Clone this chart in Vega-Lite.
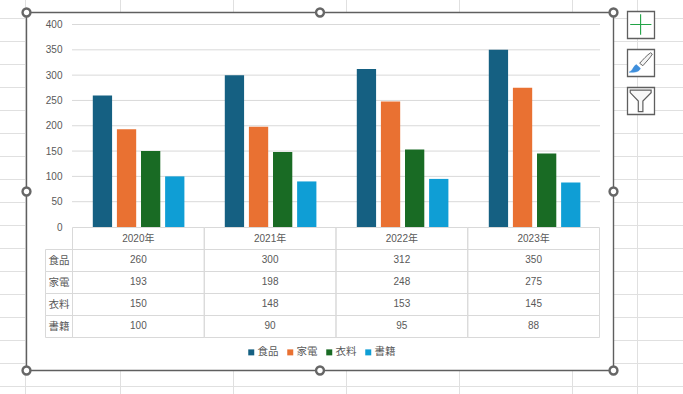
{
"$schema":"https://vega.github.io/schema/vega-lite/v6.json",
"width":683,"height":394,
"autosize":"none","padding":0,"background":"white",
"config":{"view":{"stroke":null},"font":"Liberation Sans, Noto Sans CJK JP","axis":{"labelFont":"Liberation Sans, Noto Sans CJK JP","labelColor":"#595959","labelFontSize":10,"title":null,"domain":false,"ticks":false,"grid":false,"labelOverlap":false,"zindex":1},"legend":{"labelFont":"Liberation Sans, Noto Sans CJK JP"}},
"datasets":{
"sales":[
{"year":"2020年","series":"食品","value":260},{"year":"2020年","series":"家電","value":193},{"year":"2020年","series":"衣料","value":150},{"year":"2020年","series":"書籍","value":100},
{"year":"2021年","series":"食品","value":300},{"year":"2021年","series":"家電","value":198},{"year":"2021年","series":"衣料","value":148},{"year":"2021年","series":"書籍","value":90},
{"year":"2022年","series":"食品","value":312},{"year":"2022年","series":"家電","value":248},{"year":"2022年","series":"衣料","value":153},{"year":"2022年","series":"書籍","value":95},
{"year":"2023年","series":"食品","value":350},{"year":"2023年","series":"家電","value":275},{"year":"2023年","series":"衣料","value":145},{"year":"2023年","series":"書籍","value":88}],
"headers":[{"year":"2020年","series":"年"},{"year":"2021年","series":"年"},{"year":"2022年","series":"年"},{"year":"2023年","series":"年"}],
"rowHeads":[{"series":"食品"},{"series":"家電"},{"series":"衣料"},{"series":"書籍"}],
"handles":[{"h":"left","v":"top"},{"h":"mid","v":"top"},{"h":"right","v":"top"},{"h":"left","v":"mid"},{"h":"right","v":"mid"},{"h":"left","v":"bottom"},{"h":"mid","v":"bottom"},{"h":"right","v":"bottom"}]
},
"resolve":{"scale":{"x":"independent","y":"independent","xOffset":"independent"},"axis":{"x":"independent","y":"independent"}},
"layer":[
{"data":{"values":[{"col":"B"},{"col":"C"},{"col":"D"},{"col":"E"},{"col":"F"}]},"mark":{"type":"rule","color":"#e0e0e0","strokeWidth":1},
 "encoding":{"x":{"field":"col","type":"nominal","axis":null,"scale":{"type":"point","padding":0,"domain":["B","C","D","E","F"],"range":[120.5,572.5]}}}},
{"data":{"values":[{"col":"A"},{"col":"G"}]},"mark":{"type":"rule","color":"#e0e0e0","strokeWidth":1},
 "encoding":{"x":{"field":"col","type":"nominal","axis":null,"scale":{"type":"point","padding":0,"domain":["A","G"],"range":[25.5,637.5]}}}},
{"data":{"values":[{"r":"r1"},{"r":"r2"},{"r":"r3"},{"r":"r4"},{"r":"r5"},{"r":"r6"},{"r":"r7"},{"r":"r8"},{"r":"r9"},{"r":"r10"},{"r":"r11"},{"r":"r12"},{"r":"r13"},{"r":"r14"},{"r":"r15"},{"r":"r16"},{"r":"r17"}]},"mark":{"type":"rule","color":"#e0e0e0","strokeWidth":1},
 "encoding":{"y":{"field":"r","type":"nominal","axis":null,"scale":{"type":"point","padding":0,"domain":["r1","r2","r3","r4","r5","r6","r7","r8","r9","r10","r11","r12","r13","r14","r15","r16","r17"],"range":[18.5,386.5]}}}},
{"data":{"values":[{"l":0,"r":1,"t":0,"b":1}]},"mark":{"type":"rect","fill":"white","stroke":"#5f5f5f","strokeWidth":1.4},
 "encoding":{"x":{"field":"l","type":"quantitative","axis":null,"scale":{"domain":[0,1],"range":[26.5,613.5]}},"x2":{"field":"r"},"y":{"field":"t","type":"quantitative","axis":null,"scale":{"domain":[0,1],"range":[12.5,370.5]}},"y2":{"field":"b"}}},
{"data":{"values":[{"tick":50,"a":0,"b":1},{"tick":100,"a":0,"b":1},{"tick":150,"a":0,"b":1},{"tick":200,"a":0,"b":1},{"tick":250,"a":0,"b":1},{"tick":300,"a":0,"b":1},{"tick":350,"a":0,"b":1},{"tick":400,"a":0,"b":1}]},"mark":{"type":"rule","color":"#d9d9d9","strokeWidth":1},
 "encoding":{"x":{"field":"a","type":"quantitative","axis":null,"scale":{"domain":[0,1],"range":[72,600]}},"x2":{"field":"b"},"y":{"field":"tick","type":"quantitative","axis":null,"scale":{"domain":[0,400],"range":[227,24.5]}}}},
{"data":{"name":"sales"},"mark":{"type":"bar"},
 "encoding":{"x":{"field":"year","type":"nominal","axis":null,"scale":{"range":[73,601],"paddingInner":0.3,"paddingOuter":0.15}},
  "xOffset":{"field":"series","type":"nominal","scale":{"domain":["食品","家電","衣料","書籍"],"range":[0,91.6],"paddingInner":0.2}},
  "y":{"field":"value","type":"quantitative","scale":{"domain":[0,400],"range":[227,24.5]},"axis":{"orient":"left","offset":-62,"values":[0,50,100,150,200,250,300,350,400],"labelPadding":0,"title":null,"zindex":1}},
  "color":{"field":"series","type":"nominal","scale":{"domain":["食品","家電","衣料","書籍"],"range":["#156082","#E97132","#196B24","#0F9ED5"]},
   "legend":{"orient":"none","legendX":246,"legendY":347,"direction":"horizontal","title":null,"symbolType":"square","symbolSize":36,"symbolStrokeWidth":0,"labelFontSize":10.5,"labelColor":"#595959","labelOffset":1,"columnPadding":6,"symbolOffset":0}}}},
{"data":{"name":"headers"},"mark":{"type":"rect","fill":null,"stroke":"#d9d9d9","strokeWidth":1},
 "encoding":{"x":{"field":"year","type":"nominal","axis":{"orient":"bottom","offset":-167,"labelPadding":6,"labelAngle":0,"title":null,"zindex":1},"scale":{"range":[72.5,599.5]}},
  "y":{"field":"series","type":"nominal","axis":null,"scale":{"domain":["年"],"range":[227.5,249.5]}}}},
{"data":{"name":"sales"},"mark":{"type":"rect","fill":null,"stroke":"#d9d9d9","strokeWidth":1},
 "encoding":{"x":{"field":"year","type":"nominal","axis":null,"scale":{"range":[72.5,599.5]}},
  "y":{"field":"series","type":"nominal","axis":null,"scale":{"domain":["食品","家電","衣料","書籍"],"range":[249.5,337.5]}}}},
{"data":{"name":"rowHeads"},"mark":{"type":"rect","fill":null,"stroke":"#d9d9d9","strokeWidth":1,"x":45.5,"x2":72.5},
 "encoding":{"y":{"field":"series","type":"nominal","scale":{"domain":["食品","家電","衣料","書籍"],"range":[249.5,337.5]},"axis":{"orient":"left","offset":-69,"labelPadding":0,"labelFontSize":10.5,"title":null,"zindex":1}}}},
{"data":{"name":"sales"},"mark":{"type":"text","fontSize":10,"color":"#595959","dy":-1},
 "encoding":{"x":{"field":"year","type":"nominal","axis":null,"scale":{"range":[72.5,599.5]}},
  "y":{"field":"series","type":"nominal","axis":null,"scale":{"domain":["食品","家電","衣料","書籍"],"range":[249.5,337.5]}},
  "text":{"field":"value","type":"quantitative"}}},
{"data":{"name":"handles"},"mark":{"type":"point","shape":"circle","filled":true,"fill":"white","stroke":"#666666","strokeWidth":2.4,"size":62,"opacity":1},
 "encoding":{"x":{"field":"h","type":"nominal","axis":null,"scale":{"type":"point","padding":0,"domain":["left","mid","right"],"range":[26.5,613.5]}},
  "y":{"field":"v","type":"nominal","axis":null,"scale":{"type":"point","padding":0,"domain":["top","mid","bottom"],"range":[12.5,370.5]}}}},
{"data":{"values":[{"b":"add","c":"col"},{"b":"style","c":"col"},{"b":"filter","c":"col"}]},"mark":{"type":"point","shape":"square","filled":true,"fill":"white","stroke":"#5f5f5f","strokeWidth":1.3,"size":729,"opacity":1},
 "encoding":{"x":{"field":"c","type":"nominal","axis":null,"scale":{"type":"point","padding":0,"domain":["col","x"],"range":[641,681]}},
  "y":{"field":"b","type":"nominal","axis":null,"scale":{"type":"point","padding":0,"domain":["add","style","filter"],"range":[25,101]}}}},
{"data":{"values":[{"b":"add","c":"col"}]},"mark":{"type":"point","shape":"M-0.8,-0.04 L0.77,-0.04 M-0.03,-0.8 L-0.03,0.72","filled":false,"stroke":"#21a346","strokeWidth":1.1,"size":729,"opacity":1},
 "encoding":{"x":{"field":"c","type":"nominal","axis":null,"scale":{"type":"point","padding":0,"domain":["col","x"],"range":[641,681]}},
  "y":{"field":"b","type":"nominal","axis":null,"scale":{"type":"point","padding":0,"domain":["add","style","filter"],"range":[25,101]}}}},
{"data":{"values":[{"b":"style","c":"col"}]},"mark":{"type":"point","shape":"M0.72,-0.76 L0.84,-0.66 C0.7,-0.4 0.35,-0.05 0.14,0.2 L-0.1,0.02 C0.15,-0.25 0.45,-0.6 0.72,-0.76Z","filled":true,"fill":"#f4f4f4","stroke":"#666666","strokeWidth":1,"size":729,"opacity":1},
 "encoding":{"x":{"field":"c","type":"nominal","axis":null,"scale":{"type":"point","padding":0,"domain":["col","x"],"range":[641,681]}},
  "y":{"field":"b","type":"nominal","axis":null,"scale":{"type":"point","padding":0,"domain":["add","style","filter"],"range":[25,101]}}}},
{"data":{"values":[{"b":"style","c":"col"}]},"mark":{"type":"point","shape":"M-0.35,0.12 L-0.05,0.38 C-0.1,0.6 -0.35,0.72 -0.88,0.68 C-0.6,0.6 -0.6,0.25 -0.35,0.12Z","filled":true,"fill":"#3f8fdc","stroke":"#3f8fdc","strokeWidth":0.5,"size":729,"opacity":1},
 "encoding":{"x":{"field":"c","type":"nominal","axis":null,"scale":{"type":"point","padding":0,"domain":["col","x"],"range":[641,681]}},
  "y":{"field":"b","type":"nominal","axis":null,"scale":{"type":"point","padding":0,"domain":["add","style","filter"],"range":[25,101]}}}},
{"data":{"values":[{"b":"filter","c":"col"}]},"mark":{"type":"point","shape":"M-0.8,-0.8 L0.75,-0.8 L0.75,-0.62 L0.14,0 L0.14,0.78 L-0.2,0.78 L-0.2,0 L-0.8,-0.62Z","filled":true,"fill":"#f8f8f8","stroke":"#5f5f5f","strokeWidth":1.2,"size":729,"opacity":1},
 "encoding":{"x":{"field":"c","type":"nominal","axis":null,"scale":{"type":"point","padding":0,"domain":["col","x"],"range":[641,681]}},
  "y":{"field":"b","type":"nominal","axis":null,"scale":{"type":"point","padding":0,"domain":["add","style","filter"],"range":[25,101]}}}}
]
}
